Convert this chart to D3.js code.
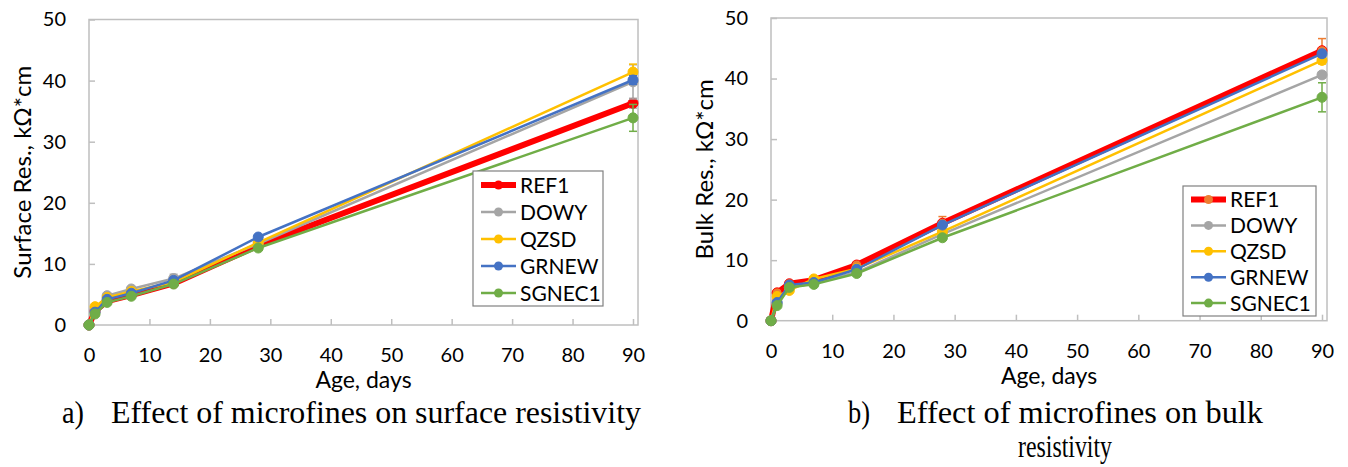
<!DOCTYPE html>
<html>
<head>
<meta charset="utf-8">
<script src="https://cdn.jsdelivr.net/npm/d3@7"></script>
<style>
  body { margin: 0; background: #fff; }
  svg { display: block; }
</style>
</head>
<body>
<svg id="fig" width="1348" height="467"></svg>
<script>
// ages at which the samples were tested
const ages = [0, 1, 3, 7, 14, 28, 90];
const seriesNames = ["REF1", "DOWY", "QZSD", "GRNEW", "SGNEC1"];
const seriesColors = ["#FF0000", "#A5A5A5", "#FFC000", "#4472C4", "#70AD47"];
const yTicks = [0, 10, 20, 30, 40, 50];
const xTicks = [0, 10, 20, 30, 40, 50, 60, 70, 80, 90];

// a) surface resistivity, kOhm*cm
const surfREF1   = [0, 2.3, 3.9, 4.9, 6.8, 13.0, 36.3];
const surfDOWY   = [0, 2.6, 4.8, 5.9, 7.6, 13.3, 39.8];
const surfQZSD   = [0, 3.0, 4.5, 5.5, 7.0, 13.5, 41.4];
const surfGRNEW  = [0, 2.1, 4.2, 5.2, 7.3, 14.4, 40.1];
const surfSGNEC1 = [0, 1.8, 3.7, 4.7, 6.7, 12.6, 33.9];
// error bars (+/-)
const surfErrREF1   = [0, 0, 0, 0, 0, 0, 0.8];
const surfErrDOWY   = [0, 0, 0.3, 0.3, 0.7, 0.3, 2.8];
const surfErrQZSD   = [0, 0, 0, 0, 0, 0, 1.3];
const surfErrGRNEW  = [0, 0, 0, 0, 0, 0, 0.7];
const surfErrSGNEC1 = [0, 0, 0, 0, 0, 0, 2.2];

// b) bulk resistivity, kOhm*cm
const bulkREF1   = [0, 4.6, 6.1, 6.7, 9.2, 16.1, 44.6];
const bulkDOWY   = [0, 2.9, 5.5, 6.2, 8.0, 14.3, 40.6];
const bulkQZSD   = [0, 4.0, 5.0, 6.9, 8.6, 14.7, 43.0];
const bulkGRNEW  = [0, 3.0, 5.9, 6.3, 8.5, 15.8, 44.1];
const bulkSGNEC1 = [0, 2.5, 5.5, 6.0, 7.8, 13.7, 36.9];
const bulkErrREF1   = [0, 0.5, 0.4, 0.4, 0.5, 1.1, 2.0];
const bulkErrDOWY   = [0, 0, 0, 0, 0, 0, 0.5];
const bulkErrQZSD   = [0, 0, 0, 0, 0, 0, 0.6];
const bulkErrGRNEW  = [0, 0, 0, 0, 0, 0, 0.5];
const bulkErrSGNEC1 = [0, 0, 0, 0, 0, 0, 2.4];

const svg = d3.select("#fig");
const font = "Lato, 'Open Sans', sans-serif";

function drawChart(opt) {
  const g = svg.append("g");
  const x = d3.scaleLinear().domain([0, 90]).range([opt.left, opt.right]);
  const y = d3.scaleLinear().domain([0, 50]).range([opt.bottom, opt.top]);
  const boxRight = opt.right + 5;

  // plot border
  g.append("rect")
    .attr("x", opt.left).attr("y", opt.top)
    .attr("width", boxRight - opt.left).attr("height", opt.bottom - opt.top)
    .attr("fill", "none").attr("stroke", "#BFBFBF").attr("stroke-width", 1.5);

  // axes, ticks pointing inward
  const yAxis = g.append("g")
    .attr("transform", `translate(${opt.left},0)`)
    .call(d3.axisLeft(y).tickValues(yTicks).tickSize(-6).tickPadding(23));
  const xAxis = g.append("g")
    .attr("transform", `translate(0,${opt.bottom})`)
    .call(d3.axisBottom(x).tickValues(xTicks).tickSize(-6).tickPadding(23));
  [xAxis, yAxis].forEach(a => {
    a.select(".domain").remove();
    a.selectAll("line").attr("stroke", "#BFBFBF").attr("stroke-width", 1.5);
    a.selectAll("text").attr("font-family", font).attr("font-size", 20).attr("fill", "#000");
  });

  // axis titles
  g.append("text")
    .attr("transform", `translate(${opt.left - 66},${(opt.top + opt.bottom) / 2}) rotate(-90)`)
    .attr("text-anchor", "middle").attr("dy", "0.35em")
    .attr("font-family", font).attr("font-size", 24)
    .text(opt.yTitle);
  g.append("text")
    .attr("x", (opt.left + boxRight) / 2).attr("y", opt.bottom + 63)
    .attr("text-anchor", "middle")
    .attr("font-family", font).attr("font-size", 23)
    .text("Age, days");

  const line = d3.line().x((d, i) => x(ages[i])).y(d => y(d));

  opt.values.forEach((vals, s) => {
    const col = seriesColors[s];
    const sg = g.append("g");
    // error bars
    const errCol = s === 0 ? opt.refErrColor : col;
    vals.forEach((v, i) => {
      const e = opt.errors[s][i];
      if (!e) return;
      const cx = x(ages[i]);
      sg.append("line").attr("x1", cx).attr("x2", cx)
        .attr("y1", y(v - e)).attr("y2", y(v + e))
        .attr("stroke", errCol).attr("stroke-width", 1.5);
      [v - e, v + e].forEach(w => sg.append("line")
        .attr("x1", cx - 4).attr("x2", cx + 4)
        .attr("y1", y(w)).attr("y2", y(w))
        .attr("stroke", errCol).attr("stroke-width", 1.5));
    });
    sg.append("path").datum(vals)
      .attr("d", line)
      .attr("fill", "none")
      .attr("stroke", col)
      .attr("stroke-width", s === 0 ? 6 : 2.5)
      .attr("stroke-linejoin", "round");
    sg.selectAll("circle").data(vals).join("circle")
      .attr("cx", (d, i) => x(ages[i]))
      .attr("cy", d => y(d))
      .attr("r", 5)
      .attr("fill", s === 0 ? opt.refMarker : col)
      .attr("stroke", col).attr("stroke-width", 1);
  });

  // legend
  const lg = g.append("g");
  const L = opt.legend;
  lg.append("rect")
    .attr("x", L.x).attr("y", L.y).attr("width", L.w).attr("height", L.h)
    .attr("fill", "#fff").attr("stroke", "#808080").attr("stroke-width", 1.2);
  seriesNames.forEach((name, s) => {
    const cy = L.y + L.first + s * L.step;
    lg.append("line")
      .attr("x1", L.x + 8).attr("x2", L.x + 43).attr("y1", cy).attr("y2", cy)
      .attr("stroke", seriesColors[s]).attr("stroke-width", s === 0 ? 6 : 2.5);
    lg.append("circle").attr("cx", L.x + 25.5).attr("cy", cy).attr("r", 4.5)
      .attr("fill", s === 0 ? opt.refMarker : seriesColors[s]);
    lg.append("text")
      .attr("x", L.x + 47).attr("y", cy).attr("dy", "0.36em")
      .attr("font-family", font).attr("font-size", 21)
      .text(name);
  });
}

drawChart({
  left: 89, right: 633, top: 19.5, bottom: 325,
  yTitle: "Surface Res., kΩ*cm",
  values: [surfREF1, surfDOWY, surfQZSD, surfGRNEW, surfSGNEC1],
  errors: [surfErrREF1, surfErrDOWY, surfErrQZSD, surfErrGRNEW, surfErrSGNEC1],
  refMarker: "#FF0000", refErrColor: "#A5A5A5",
  legend: { x: 473, y: 171, w: 130, h: 135, first: 14, step: 27 }
});

drawChart({
  left: 771, right: 1322, top: 18, bottom: 320.7,
  yTitle: "Bulk Res.,  kΩ*cm",
  values: [bulkREF1, bulkDOWY, bulkQZSD, bulkGRNEW, bulkSGNEC1],
  errors: [bulkErrREF1, bulkErrDOWY, bulkErrQZSD, bulkErrGRNEW, bulkErrSGNEC1],
  refMarker: "#ED7D31", refErrColor: "#ED7D31",
  legend: { x: 1183, y: 186, w: 133, h: 130, first: 13.5, step: 25.9 }
});

// captions
const serif = "'Liberation Serif', 'Times New Roman', serif";
function caption(txt, x, y, width) {
  svg.append("text").attr("x", x).attr("y", y)
    .attr("font-family", serif).attr("font-size", 31)
    .attr("textLength", width).attr("lengthAdjust", "spacingAndGlyphs")
    .text(txt);
}
caption("a)", 62, 423, 22);
caption("Effect of microfines on surface resistivity", 111, 423, 530);
caption("b)", 848, 423, 22);
caption("Effect of microfines on bulk", 897, 423, 366);
caption("resistivity", 1018, 457, 94);
</script>
</body>
</html>
